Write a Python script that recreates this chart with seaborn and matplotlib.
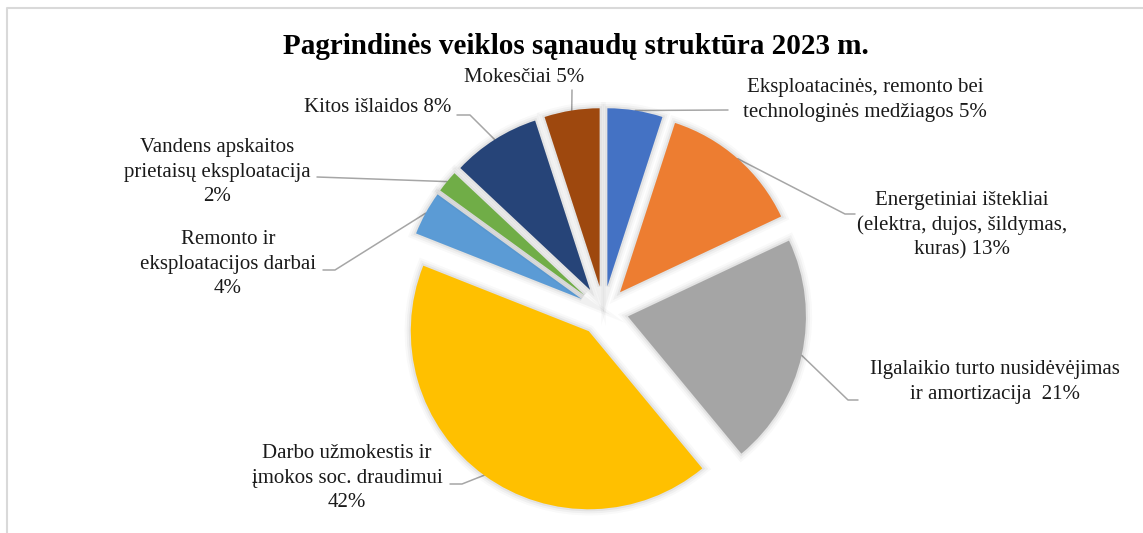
import numpy as np
import matplotlib
matplotlib.use("Agg")
import matplotlib.pyplot as plt
import matplotlib.patheffects as pe
import seaborn as sns

# data (clockwise from 12 o'clock)
categories = [
    "Eksploatacinės, remonto bei\ntechnologinės medžiagos 5%",
    "Energetiniai ištekliai\n(elektra, dujos, šildymas,\nkuras) 13%",
    "Ilgalaikio turto nusidėvėjimas\nir amortizacija  21%",
    "Darbo užmokestis ir\nįmokos soc. draudimui\n42%",
    "Remonto ir\neksploatacijos darbai\n4%",
    "Vandens apskaitos\nprietaisų eksploatacija\n2%",
    "Kitos išlaidos 8%",
    "Mokesčiai 5%",
]
shares = [5, 13, 21, 42, 4, 2, 8, 5]
colors = ["#4472C4", "#ED7D31", "#A5A5A5", "#FFC000",
          "#5B9BD5", "#70AD47", "#264478", "#9E480E"]
title = "Pagrindinės veiklos sąnaudų struktūra 2023 m."

W, H = 1143, 533


def px(x, y):
    # pixel coords (top-down) -> axes data coords
    return x, H - y


# label centres and leader line bends, in pixels
label_pos = [(865, 100), (962, 225), (995, 382), (347, 478),
             (228, 264), (217, 172), (378, 108), (524, 78)]
leader_bends = [
    [(728, 110)],
    [(845, 214), (855, 214)],
    [(848, 400), (858, 400)],
    [(462, 484), (450, 484)],
    [(335, 270), (323, 270)],
    [(317, 177)],
    [(470, 115), (457, 115)],
    [(572, 90)],
]

sns.set_theme(style="white")
plt.rcParams["font.family"] = ["Liberation Serif", "DejaVu Serif"]

fig = plt.figure(figsize=(W / 100, H / 100), dpi=100)
ax = fig.add_axes([0, 0, 1, 1])

radius = 178
center = px(603.5, 311)
explode = [25] * len(shares)   # pie uses absolute offsets

wedges, _ = ax.pie(shares, colors=colors, startangle=90, counterclock=False,
                   radius=radius, center=center, explode=explode,
                   wedgeprops=dict(linewidth=0))
ax.set_xlim(0, W)
ax.set_ylim(0, H)
ax.set_aspect("equal")
ax.axis("off")

glow = [pe.Stroke(linewidth=9, foreground="black", alpha=0.025),
        pe.Stroke(linewidth=6, foreground="black", alpha=0.035),
        pe.Stroke(linewidth=3, foreground="black", alpha=0.05),
        pe.Normal()]
for w in wedges:
    w.set_path_effects(glow)

for w, text, (tx, ty), bends in zip(wedges, categories, label_pos, leader_bends):
    mid = np.deg2rad((w.theta1 + w.theta2) / 2)
    ax0 = w.center[0] + w.r * np.cos(mid)
    ay0 = w.center[1] + w.r * np.sin(mid)
    xs = [ax0] + [px(*b)[0] for b in bends]
    ys = [ay0] + [px(*b)[1] for b in bends]
    ax.plot(xs, ys, color="#A6A6A6", linewidth=1.1, zorder=0.5)
    ax.text(*px(tx, ty), text, ha="center", va="center", multialignment="center",
            fontsize=15, color="#1a1a1a", linespacing=1.38)

ax.text(*px(576, 47), title, ha="center", va="center", fontsize=21,
        fontweight="bold", color="black")

# light chart frame (left and top edges visible)
ax.plot([7, 7, W + 5], [-5, H - 8, H - 8], color="#D9D9D9", linewidth=1.5,
        clip_on=False)

fig.savefig("out.png", dpi=100, facecolor="white")
